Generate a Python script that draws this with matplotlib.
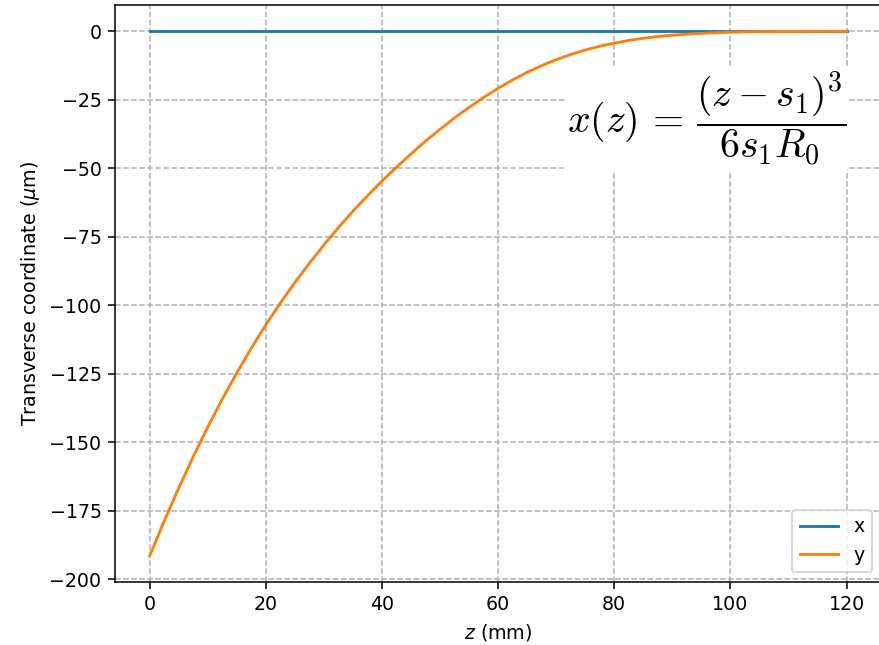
import numpy as np
import matplotlib.pyplot as plt

# values (z in mm, transverse coordinate in um)
z_mm = [0, 2.5, 5, 7.5, 10, 12.5, 15, 17.5, 20, 22.5, 25, 27.5, 30, 32.5, 35, 37.5,
        40, 42.5, 45, 47.5, 50, 52.5, 55, 57.5, 60, 62.5, 65, 67.5, 70, 72.5, 75, 77.5,
        80, 82.5, 85, 87.5, 90, 92.5, 95, 97.5, 100, 102.5, 105, 107.5, 110, 112.5,
        115, 117.5, 120]
x_um = [0.0] * len(z_mm)
y_um = [-191.5, -178.8, -166.75, -155.3, -144.5, -134.3, -124.7, -115.7,
        -107.2, -99.2, -91.75, -84.7, -78.0, -71.7, -65.7, -60.1,
        -54.7, -49.65, -44.8, -40.15, -35.8, -31.65, -27.8, -24.2,
        -20.85, -17.8, -15.0, -12.55, -10.4, -8.5, -6.9, -5.5,
        -4.35, -3.37, -2.58, -1.95, -1.46, -1.08, -0.78, -0.56,
        -0.38, -0.25, -0.16, -0.12, -0.1, -0.08, -0.07, -0.055, -0.04]

x_ticks = [0, 20, 40, 60, 80, 100, 120]
y_ticks = [0, -25, -50, -75, -100, -125, -150, -175, -200]

DPI = 137
fig = plt.figure(figsize=(879 / DPI, 645 / DPI), dpi=DPI)
ax = fig.add_axes([0.1307, 0.0977, 0.872, 0.8946])

ax.plot(z_mm, x_um, label='x')
ax.plot(z_mm, y_um, label='y')

ax.set_xticks(x_ticks)
ax.set_yticks(y_ticks)
ax.grid(True, linestyle='--')
ax.set_xlabel('$z$ (mm)')
ax.set_ylabel(r'Transverse coordinate ($\mu$m)')
ax.legend(loc='lower right')

# formula box in the upper right
ax.text(120, -32, r'$x(z)\,=\,\dfrac{(z-s_1)^3}{6s_1R_0}$', fontsize=21,
        math_fontfamily='cm', ha='right', va='center',
        bbox=dict(facecolor='white', edgecolor='none', pad=1))

fig.savefig('out.png', dpi=DPI)
